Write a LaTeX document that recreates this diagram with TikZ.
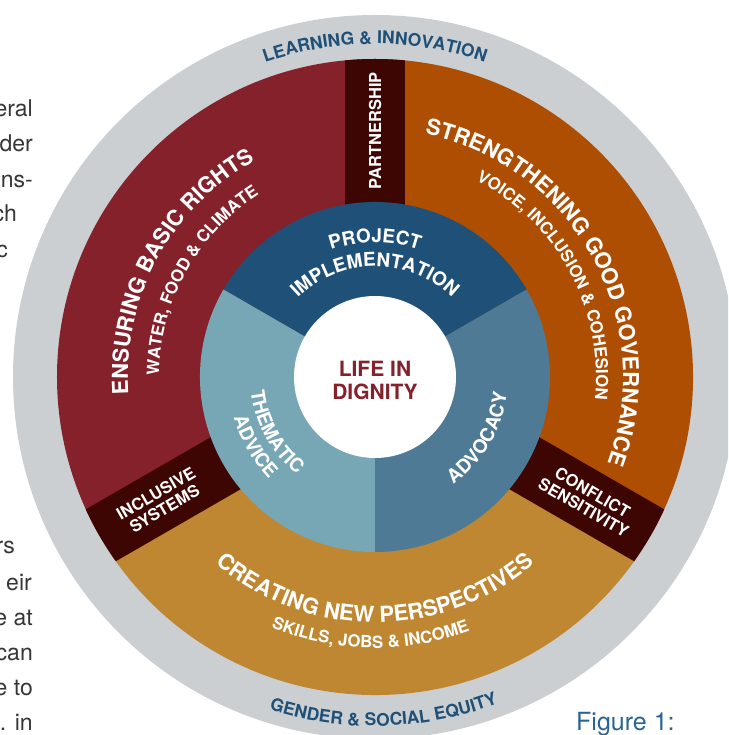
\documentclass[tikz,border=0pt]{standalone}
\usepackage{fontspec}
\setmainfont{TeX Gyre Heros}
\usetikzlibrary{decorations.text}
\definecolor{ringgrey}{HTML}{CBCFD2}
\definecolor{rightsred}{HTML}{84212A}
\definecolor{govorange}{HTML}{AD4E02}
\definecolor{perspgold}{HTML}{BF8731}
\definecolor{bardark}{HTML}{3E0603}
\definecolor{pjblue}{HTML}{1F5078}
\definecolor{advblue}{HTML}{4E7A96}
\definecolor{thteal}{HTML}{77A6B5}
\definecolor{ringtext}{HTML}{1F5078}
\definecolor{bodygrey}{HTML}{363636}
\definecolor{figblue}{HTML}{2A6496}
\newcommand\ttlfont{\fontsize{22}{24}\selectfont\bfseries}
\newcommand\subfont{\fontsize{16.8}{18}\selectfont\bfseries}
\newcommand\ringfont{\fontsize{17.5}{19}\selectfont\bfseries}
\newcommand\innerfont{\fontsize{19}{21}\selectfont\bfseries}
% clockwise arc text (letter tops outward)
\newcommand\cwtext[5]{\path[decorate,decoration={text along path,text align=center,text color=#1,text={|#2|#3}}] ({#4+85}:#5) arc[start angle={#4+85},end angle={#4-85},radius=#5];}
% counter-clockwise arc text (letter tops inward)
\newcommand\ccwtext[5]{\path[decorate,decoration={text along path,text align=center,text color=#1,text={|#2|#3}}] ({#4-85}:#5) arc[start angle={#4-85},end angle={#4+85},radius=#5];}
\begin{document}
\begin{tikzpicture}[x=1pt,y=1pt,
  bodytext/.style={font=\fontsize{23}{27}\selectfont, text=bodygrey, inner sep=0pt},
  figtext/.style={font=\fontsize{25}{28}\selectfont, text=figblue, inner sep=0pt},
  centertext/.style={font=\fontsize{21}{23}\selectfont\bfseries, text=rightsred, inner sep=0pt},
  bartext/.style={font=\fontsize{16.5}{17.5}\selectfont\bfseries, text=white, inner sep=0pt, align=center}]
\clip (-375,-358) rectangle (353,377);
\fill[white] (-375,-358) rectangle (353,377);
% outer grey ring
\fill[ringgrey] (0,0) circle[radius=362];
% coloured sectors
\fill[rightsred] (0,0) -- (90:318) arc[start angle=90,end angle=210,radius=318] -- cycle;
\fill[perspgold] (0,0) -- (210:318) arc[start angle=210,end angle=330,radius=318] -- cycle;
\fill[govorange] (0,0) -- (-30:318) arc[start angle=-30,end angle=90,radius=318] -- cycle;
% dark bars
\begin{scope}
  \clip (0,0) circle[radius=318];
  \fill[bardark, rotate=90] (0,-30) rectangle (330,30);
  \fill[bardark, rotate=210] (0,-30) rectangle (330,30);
  \fill[bardark, rotate=330] (0,-30) rectangle (330,30);
\end{scope}
% inner ring
\fill[pjblue] (0,0) -- (30:175) arc[start angle=30,end angle=150,radius=175] -- cycle;
\fill[thteal] (0,0) -- (150:175) arc[start angle=150,end angle=270,radius=175] -- cycle;
\fill[advblue] (0,0) -- (270:175) arc[start angle=270,end angle=390,radius=175] -- cycle;
\fill[white] (0,0) circle[radius=81];
% curved texts
\cwtext{white}{\ttlfont}{ENSURING BASIC RIGHTS}{151.5}{247}
\cwtext{white}{\subfont}{WATER, FOOD {\&} CLIMATE}{151}{216}
\cwtext{white}{\ttlfont}{STRENGTHENING GOOD GOVERNANCE}{29}{248}
\cwtext{white}{\subfont}{VOICE, INCLUSION {\&} COHESION}{28.5}{221}
\ccwtext{white}{\ttlfont}{CREATING NEW PERSPECTIVES}{-90}{245.5}
\ccwtext{white}{\subfont}{SKILLS, JOBS {\&} INCOME}{-91}{271}
\cwtext{ringtext}{\ringfont}{LEARNING {\&} INNOVATION}{90}{333}
\ccwtext{ringtext}{\ringfont}{GENDER {\&} SOCIAL EQUITY}{-88.5}{349}
\cwtext{white}{\innerfont}{PROJECT}{90}{134.5}
\cwtext{white}{\innerfont}{IMPLEMENTATION}{90}{110.5}
\ccwtext{white}{\innerfont}{THEMATIC}{209}{125}
\ccwtext{white}{\innerfont}{ADVICE}{210}{147}
\ccwtext{white}{\innerfont}{ADVOCACY}{-30.5}{133}
% centre
\node[centertext, anchor=base] (life) at (0,0) {LIFE IN};
\node[centertext, anchor=base] (dignity) at (0,-23) {DIGNITY};
% bar labels
\node[bartext, rotate=90] (partner) at (0,246) {PARTNERSHIP};
\node[bartext, rotate=30] (inclusive) at (210:248) {INCLUSIVE\\SYSTEMS};
\node[bartext, rotate=-30] (conflict) at (-30:246) {CONFLICT\\SENSITIVITY};
% body text fragments
\node[bodytext, anchor=base east] (t1) at (-342,260) {eral};
\node[bodytext, anchor=base east] (t2) at (-342,225) {der};
\node[bodytext, anchor=base east] (t3) at (-342,189) {ns-};
\node[bodytext, anchor=base east] (t4) at (-358,155) {ch};
\node[bodytext, anchor=base east] (t5) at (-367,119) {c};
\node[bodytext, anchor=base east] (t6) at (-360,-176) {rs};
\node[bodytext, anchor=base east] (t7) at (-343,-213) {eir};
\node[bodytext, anchor=base east] (t8) at (-342,-248) {e at};
\node[bodytext, anchor=base east] (t9) at (-342,-283) {can};
\node[bodytext, anchor=base east] (t10) at (-342,-318) {e to};
\node[bodytext, anchor=base east] (t11) at (-342,-353) {. in};
\node[figtext, anchor=base west] (fig) at (201,-353) {Figure 1:};
\end{tikzpicture}
\end{document}
